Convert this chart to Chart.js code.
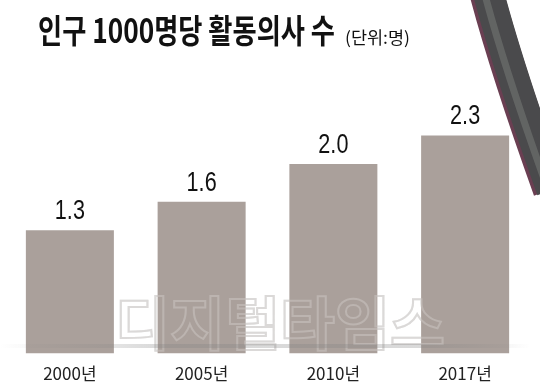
<!DOCTYPE html>
<html>
<head>
<meta charset="utf-8">
<script src="https://cdn.jsdelivr.net/npm/chart.js@4"></script>
<style>
    body { margin: 0; background: #ffffff; }
    #wrap { position: relative; width: 540px; height: 391px; }
</style>
</head>
<body>
<div id="wrap"><canvas id="barChart"></canvas></div>
<script>
// data
const YEARS = ['2000년', '2005년', '2010년', '2017년'];
const DOCTORS = [1.3, 1.6, 2.0, 2.3];
const TITLE = '인구 1000명당 활동의사 수';
const UNIT = '(단위:명)';
const WATERMARK = '디지털타임스';

const BAR_COLOR = '#aaa09b';
const FONT_KR = '"Noto Sans CJK KR", "Noto Sans", sans-serif';

// draw text squeezed sideways so it fits a given width (newspaper style font)
function squeezeText(ctx, text, x, y, width) {
    var w = ctx.measureText(text).width;
    var s = width / w;
    ctx.save();
    ctx.translate(x, y);
    ctx.scale(s, 1);
    ctx.fillText(text, 0, 0);
    ctx.restore();
}

function drawWatermark(ctx, color) {
    ctx.save();
    ctx.font = 'bold 58px ' + FONT_KR;
    ctx.textBaseline = 'alphabetic';
    var w = ctx.measureText(WATERMARK).width;
    ctx.translate(115, 345);
    ctx.scale(330 / w, 1);
    ctx.lineWidth = 2;
    ctx.strokeStyle = color;
    ctx.strokeText(WATERMARK, 0, 0);
    ctx.restore();
}

const decorPlugin = {
    id: 'decor',
    beforeDatasetsDraw(chart) {
        // faint watermark behind the bars
        drawWatermark(chart.ctx, 'rgba(195,195,195,0.55)');
    },
    afterDatasetsDraw(chart) {
        const ctx = chart.ctx;
        const meta = chart.getDatasetMeta(0);

        // watermark outline again, lightly over the bars
        drawWatermark(ctx, 'rgba(215,210,208,0.4)');

        // grey shadow band near the base
        ctx.save();
        var g = ctx.createLinearGradient(0, 0, 530, 0);
        g.addColorStop(0, 'rgba(130,130,130,0)');
        g.addColorStop(0.3, 'rgba(130,130,130,0.3)');
        g.addColorStop(0.8, 'rgba(130,130,130,0.3)');
        g.addColorStop(1, 'rgba(130,130,130,0)');
        ctx.fillStyle = g;
        ctx.fillRect(0, 344, 530, 4);
        ctx.restore();

        // value labels above the bars
        ctx.save();
        ctx.fillStyle = '#111111';
        ctx.font = '27px "Liberation Sans", Arial, sans-serif';
        ctx.textBaseline = 'alphabetic';
        meta.data.forEach(function (bar, i) {
            var txt = DOCTORS[i].toFixed(1);
            var tw = ctx.measureText(txt).width * 0.8;
            squeezeText(ctx, txt, bar.x - tw / 2, bar.y - 11, tw);
        });
        ctx.restore();
    },
    afterDraw(chart) {
        const ctx = chart.ctx;
        // title
        ctx.save();
        ctx.fillStyle = '#111111';
        ctx.textBaseline = 'alphabetic';
        ctx.font = 'bold 33px ' + FONT_KR;
        squeezeText(ctx, TITLE, 38, 43, 297);
        ctx.font = '17px ' + FONT_KR;
        squeezeText(ctx, UNIT, 345, 44, 65);
        ctx.restore();

        // stethoscope tube in the top right corner
        ctx.save();
        ctx.lineCap = 'butt';
        ctx.beginPath();
        ctx.moveTo(487, -5);
        ctx.quadraticCurveTo(507, 70, 550, 190);
        ctx.strokeStyle = '#6a3f52';
        ctx.lineWidth = 34;
        ctx.stroke();
        ctx.beginPath();
        ctx.moveTo(489, -5);
        ctx.quadraticCurveTo(509, 70, 552, 190);
        ctx.strokeStyle = '#4a4a4c';
        ctx.lineWidth = 31;
        ctx.stroke();
        ctx.beginPath();
        ctx.moveTo(485, -5);
        ctx.quadraticCurveTo(505, 70, 548, 190);
        ctx.strokeStyle = 'rgba(115,118,115,0.6)';
        ctx.lineWidth = 7;
        ctx.stroke();
        ctx.restore();
    }
};

const ctx = document.getElementById('barChart').getContext('2d');
const myChart = new Chart(ctx, {
    type: 'bar',
    data: {
        labels: YEARS,
        datasets: [{
            data: DOCTORS,
            backgroundColor: BAR_COLOR,
            borderWidth: 0,
            categoryPercentage: 1,
            barPercentage: 0.668
        }]
    },
    options: {
        responsive: true,
        maintainAspectRatio: false,
        animation: false,
        layout: {
            padding: { left: 4, right: 9, top: 107, bottom: 5 }
        },
        plugins: {
            legend: { display: false },
            tooltip: { enabled: false }
        },
        scales: {
            x: {
                grid: { display: false },
                border: { display: false },
                ticks: {
                    padding: 2,
                    color: '#222222',
                    font: { family: FONT_KR, size: 17 }
                }
            },
            y: {
                display: false,
                min: 0,
                max: 2.6
            }
        }
    },
    plugins: [decorPlugin]
});
</script>
</body>
</html>
